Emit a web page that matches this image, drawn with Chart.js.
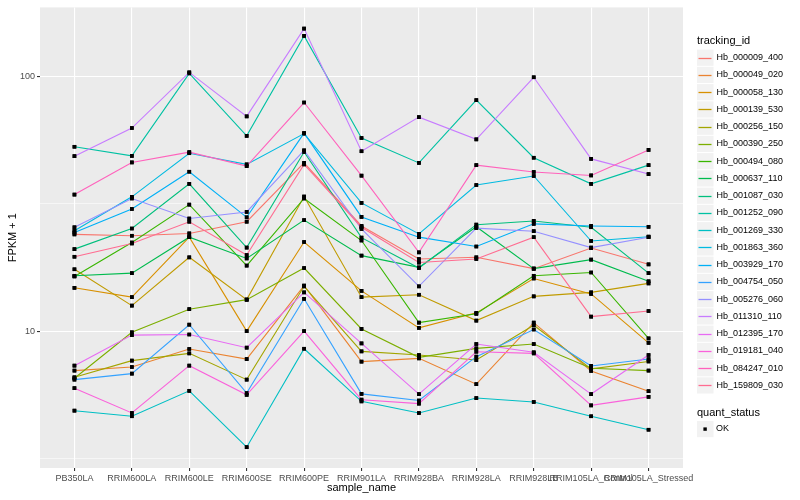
<!DOCTYPE html>
<html>
<head>
<meta charset="utf-8">
<script src="https://cdn.jsdelivr.net/npm/chart.js@4.4.1/dist/chart.umd.min.js"></script>
<style>html,body{margin:0;background:#fff}</style>
</head>
<body>
<canvas id="chart" width="800" height="500"></canvas>
<script>
const categories = ['PB350LA', 'RRIM600LA', 'RRIM600LE', 'RRIM600SE', 'RRIM600PE', 'RRIM901LA',
  'RRIM928BA', 'RRIM928LA', 'RRIM928LB', 'RRIM105LA_Control', 'RRIM105LA_Stressed'];

const trackingIds = ['Hb_000009_400', 'Hb_000049_020', 'Hb_000058_130', 'Hb_000139_530', 'Hb_000256_150',
  'Hb_000390_250', 'Hb_000494_080', 'Hb_000637_110', 'Hb_001087_030', 'Hb_001252_090', 'Hb_001269_330',
  'Hb_001863_360', 'Hb_003929_170', 'Hb_004754_050', 'Hb_005276_060', 'Hb_011310_110', 'Hb_012395_170',
  'Hb_019181_040', 'Hb_084247_010', 'Hb_159809_030'];

// FPKM + 1, one value per sample
const hb_000009_400 = [24.0, 23.7, 24.2, 26.9, 45.8, 25.9, 19.2, 19.5, 17.6, 21.2, 18.3];
const hb_000049_020 = [7.0, 7.23, 8.51, 7.77, 15.1, 7.59, 7.82, 6.19, 10.8, 6.98, 5.81];
const hb_000058_130 = [14.8, 13.6, 23.4, 10.0, 22.4, 14.4, 10.3, 11.8, 16.1, 14.0, 9.0];
const hb_000139_530 = [17.5, 12.6, 19.5, 13.3, 33.8, 13.6, 13.9, 11.0, 13.7, 14.2, 15.4];
const hb_000256_150 = [6.59, 7.66, 8.18, 6.45, 15.0, 8.33, 8.06, 7.70, 10.55, 7.11, 7.6];
const hb_000390_250 = [6.53, 9.9, 12.2, 13.3, 17.7, 10.2, 7.89, 8.56, 8.9, 7.15, 7.0];
const hb_000494_080 = [16.4, 22.3, 31.4, 18.1, 33.2, 22.7, 10.8, 11.7, 16.5, 17.0, 9.36];
const hb_000637_110 = [16.5, 16.9, 23.4, 19.3, 27.3, 19.8, 17.8, 25.7, 17.6, 19.1, 15.7];
const hb_001087_030 = [21.0, 25.3, 37.9, 21.3, 50.6, 23.3, 17.7, 26.2, 27.1, 25.6, 16.9];
const hb_001252_090 = [53.0, 48.8, 103.0, 58.5, 144.5, 57.4, 45.8, 80.8, 48.0, 37.9, 44.9];
const hb_001269_330 = [4.87, 4.63, 5.83, 3.50, 8.53, 5.30, 4.77, 5.46, 5.27, 4.63, 4.10];
const hb_001863_360 = [24.8, 33.7, 50.0, 45.2, 59.7, 31.9, 24.1, 37.5, 40.7, 22.6, 23.5];
const hb_003929_170 = [24.4, 30.2, 42.3, 28.0, 60.0, 28.1, 23.4, 21.5, 26.4, 25.9, 25.7];
const hb_004754_050 = [6.45, 6.81, 10.6, 5.71, 13.4, 5.67, 5.34, 7.94, 10.15, 7.30, 7.77];
const hb_005276_060 = [25.6, 33.2, 27.7, 29.4, 51.3, 25.2, 15.0, 25.4, 24.7, 21.3, 23.4];
const hb_011310_110 = [48.7, 62.8, 103.9, 69.8, 154.4, 50.9, 69.3, 56.7, 99.4, 47.5, 41.4];
const hb_012395_170 = [7.32, 9.65, 9.7, 8.61, 14.2, 8.95, 5.66, 8.9, 8.26, 5.66, 8.06];
const hb_019181_040 = [5.97, 4.77, 7.32, 5.62, 10.0, 5.38, 5.19, 8.30, 8.18, 5.11, 5.52];
const hb_084247_010 = [34.4, 46.0, 50.5, 44.5, 79.1, 40.8, 20.4, 44.9, 42.2, 40.9, 51.5];
const hb_159809_030 = [19.6, 22.1, 26.9, 19.9, 45.2, 25.6, 18.6, 19.2, 23.4, 11.4, 12.0];

const yTicks = [Math.sqrt(10), 10, Math.sqrt(1000), 100];
const yLabelled = [10, 100];

const series = [hb_000009_400, hb_000049_020, hb_000058_130, hb_000139_530, hb_000256_150,
  hb_000390_250, hb_000494_080, hb_000637_110, hb_001087_030, hb_001252_090, hb_001269_330,
  hb_001863_360, hb_003929_170, hb_004754_050, hb_005276_060, hb_011310_110, hb_012395_170,
  hb_019181_040, hb_084247_010, hb_159809_030];

const palette = ['#F8766D', '#EA8331', '#D89000', '#C09B00', '#A3A500', '#7CAE00', '#39B600', '#00BB4E',
  '#00BF7D', '#00C1A3', '#00BFC4', '#00BAE0', '#00B0F6', '#35A2FF', '#9590FF', '#C77CFF', '#E76BF3',
  '#FA62DB', '#FF62BC', '#FF6C91'];

const FONT = '"Liberation Sans", Arial, sans-serif';

const datasets = trackingIds.map((id, i) => ({
  label: id,
  data: series[i].map((v, j) => ({ x: j, y: v })),
  borderColor: palette[i],
  backgroundColor: palette[i],
  borderWidth: 1.1,
  pointStyle: 'rect',
  pointRadius: 2.6,
  pointBorderWidth: 0,
  pointBackgroundColor: '#000',
  fill: false,
  tension: 0,
  order: -i
}));

const panel = {
  id: 'panel',
  beforeDraw(chart) {
    const { ctx, chartArea: a } = chart;
    ctx.save();
    ctx.fillStyle = '#fff';
    ctx.fillRect(0, 0, chart.width, chart.height);
    ctx.fillStyle = '#EBEBEB';
    ctx.fillRect(a.left, a.top, a.right - a.left, a.bottom - a.top);
    ctx.restore();
  },
  afterDatasetsDraw(chart) {
    // points go over all the lines, like geom_point after geom_line
    chart.getSortedVisibleDatasetMetas().forEach(m => m.data.forEach(p => p.draw(chart.ctx, chart.chartArea)));
  }
};

const ggLegend = {
  id: 'ggLegend',
  afterDraw(chart) {
    const ctx = chart.ctx;
    ctx.save();
    ctx.textBaseline = 'middle';
    ctx.textAlign = 'left';
    ctx.fillStyle = '#000';
    ctx.font = '11px ' + FONT;
    ctx.fillText('tracking_id', 697, 40.5);
    chart.data.datasets.forEach((ds, i) => {
      const cy = 57.7 + i * 17.25;
      ctx.fillStyle = '#F2F2F2';
      ctx.fillRect(697, cy - 8.1, 16.5, 16.2);
      ctx.strokeStyle = ds.borderColor;
      ctx.lineWidth = 1.3;
      ctx.beginPath();
      ctx.moveTo(698.5, Math.round(cy) + 0.5);
      ctx.lineTo(711.5, Math.round(cy) + 0.5);
      ctx.stroke();
      ctx.fillStyle = '#000';
      ctx.font = '9px ' + FONT;
      ctx.fillText(ds.label, 716.5, cy);
    });
    ctx.font = '11px ' + FONT;
    ctx.fillText('quant_status', 697, 412.7);
    ctx.fillStyle = '#F2F2F2';
    ctx.fillRect(697, 421, 16.5, 16.2);
    ctx.fillStyle = '#000';
    ctx.fillRect(703.4, 427.4, 3.4, 3.4);
    ctx.font = '9px ' + FONT;
    ctx.fillText('OK', 716, 429);
    ctx.restore();
  }
};

new Chart(document.getElementById('chart'), {
  type: 'line',
  data: { datasets },
  plugins: [panel, ggLegend],
  options: {
    responsive: false,
    animation: false,
    layout: { padding: { left: 0, right: 117, top: 5, bottom: 0 } },
    plugins: { legend: { display: false }, tooltip: { enabled: false } },
    scales: {
      x: {
        type: 'linear',
        min: -0.6,
        max: 10.6,
        afterBuildTicks: s => { s.ticks = categories.map((_, i) => ({ value: i })); },
        afterFit: s => { s.height = 32; },
        ticks: {
          autoSkip: false, maxRotation: 0, minRotation: 0, padding: 2,
          callback: v => categories[v],
          font: { family: FONT, size: 9 }, color: '#4D4D4D'
        },
        grid: { color: '#fff', lineWidth: 1.1, tickLength: 3, tickColor: '#333' },
        border: { display: false },
        title: {
          display: true, text: 'sample_name', color: '#000',
          font: { family: FONT, size: 11 }, padding: { top: 0, bottom: 5 }
        }
      },
      y: {
        type: 'logarithmic',
        min: 2.9,
        max: 187,
        afterBuildTicks: s => { s.ticks = yTicks.map(v => ({ value: v })); },
        afterFit: s => { s.width = 40; },
        ticks: {
          padding: 2,
          callback: v => (yLabelled.includes(v) ? String(v) : ''),
          font: { family: FONT, size: 9 }, color: '#4D4D4D'
        },
        grid: {
          color: '#fff',
          lineWidth: c => (c.tick && yLabelled.includes(c.tick.value) ? 1.1 : 0.55),
          tickLength: 3,
          tickColor: c => (c.tick && yLabelled.includes(c.tick.value) ? '#333' : 'rgba(0,0,0,0)')
        },
        border: { display: false },
        title: {
          display: true, text: 'FPKM + 1', color: '#000',
          font: { family: FONT, size: 11 }, padding: { top: 6, bottom: 0 }
        }
      }
    }
  }
});
</script>
</body>
</html>
